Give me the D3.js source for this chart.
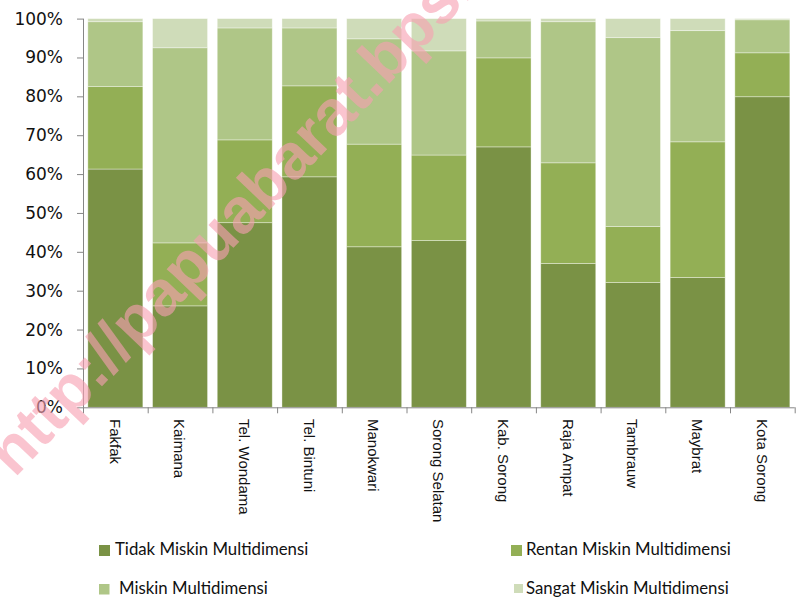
<!DOCTYPE html>
<html>
<head>
<meta charset="utf-8">
<script src="https://cdn.jsdelivr.net/npm/d3@7"></script>
<style>
  html, body { margin: 0; padding: 0; background: #fff; }
  svg { display: block; }
</style>
</head>
<body>
<svg id="chart" width="797" height="597"></svg>
<script>
const categories = ["Fakfak", "Kaimana", "Tel. Wondama", "Tel. Bintuni", "Manokwari", "Sorong Selatan", "Kab. Sorong", "Raja Ampat", "Tambrauw", "Maybrat", "Kota Sorong"];
const seriesNames = ["Tidak Miskin Multidimensi", "Rentan Miskin Multidimensi", "Miskin Multidimensi", "Sangat Miskin Multidimensi"];
const tidakMiskin  = [61.3, 26.1, 47.5, 59.3, 41.3, 42.9, 67.0, 37.0, 32.1, 33.4, 79.9];
const rentanMiskin = [21.2, 16.2, 21.3, 23.4, 26.4, 22.0, 22.9, 25.9, 14.4, 34.9, 11.3];
const miskin       = [16.7, 50.2, 28.8, 14.9, 27.1, 26.8,  9.5, 36.3, 48.6, 28.6,  8.5];
const sangatMiskin = [ 0.8,  7.5,  2.4,  2.4,  5.2,  8.3,  0.6,  0.8,  4.9,  3.1,  0.3];
const yTicks = [0, 0.1, 0.2, 0.3, 0.4, 0.5, 0.6, 0.7, 0.8, 0.9, 1.0];
const colors = ["#7a9245", "#93af55", "#afc687", "#cfdcb9"];

const seriesValues = [tidakMiskin, rentanMiskin, miskin, sangatMiskin];
const rows = categories.map((c, i) => {
  const r = { cat: c };
  const total = seriesValues.reduce((s, arr) => s + arr[i], 0);
  seriesNames.forEach((n, k) => { r[n] = seriesValues[k][i] / total; });
  return r;
});
const stacked = d3.stack().keys(seriesNames)(rows);

const svg = d3.select("#chart");
const x = d3.scaleBand().domain(categories).range([83, 794.7]).paddingInner(0.15).paddingOuter(0.075);
const y = d3.scaleLinear().domain([0, 1]).range([407.3, 18.6]);

// bars
const g = svg.append("g");
g.selectAll("g.series").data(stacked).join("g")
  .attr("fill", (d, i) => colors[i])
  .selectAll("rect").data(d => d).join("rect")
  .attr("x", d => x(d.data.cat))
  .attr("width", x.bandwidth())
  .attr("y", d => y(d[1]))
  .attr("height", d => y(d[0]) - y(d[1]))
  .attr("stroke", "rgba(255,255,255,0.45)")
  .attr("stroke-width", 0.8);

// y axis
const yAxis = d3.axisLeft(y).tickValues(yTicks).tickFormat(d3.format(".0%")).tickSize(6).tickPadding(14);
const ya = svg.append("g").attr("transform", "translate(83,0)").call(yAxis);
ya.select(".domain").attr("stroke", "#868686").attr("d", `M0.5,${y(1)}V${y(0)}`);
ya.selectAll(".tick line").attr("stroke", "#868686");
ya.selectAll(".tick text").attr("font-family", "'DejaVu Sans', Verdana, sans-serif").attr("font-size", 17).attr("fill", "#111");

// x axis
const boundaries = d3.range(categories.length + 1);
const step = x.step();
const xStart = x.range()[0];
const xa = svg.append("g");
xa.append("line").attr("x1", xStart).attr("x2", x.range()[1]).attr("y1", y(0) + 0.5).attr("y2", y(0) + 0.5).attr("stroke", "#868686");
xa.selectAll("line.tk").data(boundaries).join("line").attr("class", "tk")
  .attr("x1", i => xStart + i * step + 0.5).attr("x2", i => xStart + i * step + 0.5)
  .attr("y1", y(0)).attr("y2", y(0) + 6).attr("stroke", "#868686");
xa.selectAll("text").data(categories).join("text")
  .attr("transform", d => `translate(${x(d) + x.bandwidth() / 2},419) rotate(90)`)
  .attr("dy", "0.38em")
  .attr("font-family", "'Liberation Sans', Arial, sans-serif")
  .attr("font-size", 15)
  .attr("fill", "#111")
  .text(d => d);

// legend
const legendItems = [
  { name: "Tidak Miskin Multidimensi", c: colors[0], sx: 99, sy: 545, s: 11, tx: 115, ty: 555 },
  { name: "Rentan Miskin Multidimensi", c: colors[1], sx: 511, sy: 545, s: 11, tx: 526, ty: 555 },
  { name: "Miskin Multidimensi", c: colors[2], sx: 99, sy: 584, s: 10.5, tx: 119, ty: 594 },
  { name: "Sangat Miskin Multidimensi", c: colors[3], sx: 514, sy: 584, s: 9, tx: 526, ty: 594 }
];
const lg = svg.append("g");
legendItems.forEach(it => {
  lg.append("rect").attr("x", it.sx).attr("y", it.sy).attr("width", it.s).attr("height", it.s).attr("fill", it.c);
  lg.append("text").attr("x", it.tx).attr("y", it.ty)
    .attr("font-family", "Lato, 'Open Sans', sans-serif").attr("font-size", 16.8).attr("fill", "#111")
    .text(it.name);
});

// watermark
svg.append("text")
  .attr("transform", "translate(14.5,478.5) rotate(-46.5)")
  .attr("font-family", "'Liberation Sans', Arial, sans-serif")
  .attr("font-weight", "bold")
  .attr("font-size", 64)
  .attr("fill", "rgb(247,160,178)")
  .attr("fill-opacity", 0.62)
  .text("http://papuabarat.bps.go.id");
</script>
</body>
</html>
